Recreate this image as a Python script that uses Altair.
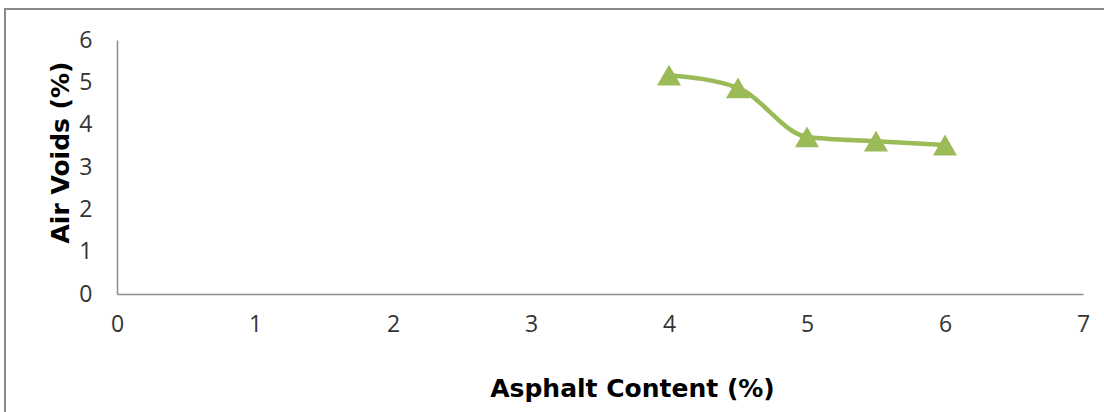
import altair as alt
import pandas as pd

asphalt = [4, 4.5, 5, 5.5, 6]
air_voids = [5.17, 4.87, 3.71, 3.61, 3.52]

df = pd.DataFrame({"asphalt": asphalt, "voids": air_voids})
green = "#9BBB59"

x = alt.X("asphalt:Q", scale=alt.Scale(domain=[0, 7], nice=False),
          axis=alt.Axis(values=[0, 1, 2, 3, 4, 5, 6, 7], title="Asphalt Content (%)",
                        grid=False, ticks=False, domainColor="#8c8c8c", domainWidth=1.5,
                        labelFont="Open Sans", labelFontSize=23, labelColor="#333333",
                        labelPadding=19, labelFlush=False, titleFont="DejaVu Sans", titleFontSize=25,
                        titleFontWeight="bold", titleColor="#000000",
                        titleX=515, titleY=94, titleBaseline="middle"))
y = alt.Y("voids:Q", scale=alt.Scale(domain=[0, 6], nice=False),
          axis=alt.Axis(values=[0, 1, 2, 3, 4, 5, 6], title="Air Voids (%)",
                        grid=False, ticks=False, domainColor="#8c8c8c", domainWidth=1.5,
                        labelFont="Open Sans", labelFontSize=23, labelColor="#333333",
                        labelPadding=25, labelFlush=False, titleFont="DejaVu Sans", titleFontSize=25,
                        titleFontWeight="bold", titleColor="#000000",
                        titleX=-57, titleY=112, titleBaseline="middle", titleAngle=270))

line = alt.Chart(df).mark_line(color=green, strokeWidth=4.5, interpolate="monotone").encode(x=x, y=y)
pts = alt.Chart(df).mark_point(shape="triangle-up", filled=True, color=green, opacity=1, size=580).encode(x=x, y=y)

border = alt.Chart(df).mark_rect(fill=None, stroke="#888888", strokeWidth=2, clip=False).encode(
    x=alt.value(-112), x2=alt.value(1000), y=alt.value(-31), y2=alt.value(400))

chart = alt.layer(border, line, pts).properties(
    width=966, height=254,
    autosize=alt.AutoSizeParams(type="none"),
    padding={"left": 117, "top": 40, "right": 21, "bottom": 118},
    background="white",
).configure_view(stroke=None)

chart.save("out.html", embed_options={"renderer": "svg", "actions": False})
